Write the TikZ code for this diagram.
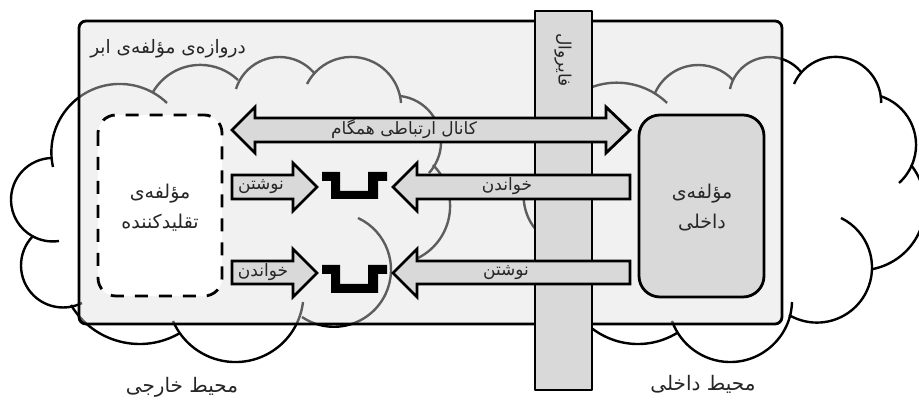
\documentclass[tikz,border=0pt]{standalone}
\usepackage{fontspec}
\newfontfamily\fa[Script=Arabic]{DejaVu Sans}
\TeXXeTstate=1
\usetikzlibrary{calc}
\definecolor{boxgray}{HTML}{D9D9D9}
\definecolor{panelgray}{HTML}{DFDFDF}
\definecolor{inkgray}{HTML}{262626}
\tikzset{
  cloudline/.style={draw=black,line width=2.4pt},
  panelbox/.style={draw=black,line width=2.8pt,fill=panelgray,fill opacity=.42,draw opacity=1,rounded corners=7pt},
  wallbox/.style={draw=black,line width=2.8pt,fill=boxgray,line join=round},
  mimicbox/.style={draw=black,line width=2.8pt,fill=white,rounded corners=18pt,dash pattern=on 13pt off 11pt},
  innerbox/.style={draw=black,line width=2.8pt,fill=boxgray,rounded corners=21pt},
  arrowshape/.style={draw=black,line width=2.8pt,fill=boxgray,line join=miter},
  trough/.style={fill=black},
  lbl/.style={font=\fa\fontsize{#1}{30}\selectfont,text=inkgray,inner sep=0pt,align=center},
  lbl/.default=14
}
% three-point circular arc, pixel coordinates of the reference
\newcommand\cloudarc[6]{%
  \pgfmathsetmacro\ax{#1/100}\pgfmathsetmacro\ay{(403-#2)/100}%
  \pgfmathsetmacro\bx{#3/100}\pgfmathsetmacro\by{(403-#4)/100}%
  \pgfmathsetmacro\cx{#5/100}\pgfmathsetmacro\cy{(403-#6)/100}%
  \pgfmathsetmacro\dd{2*(\ax*(\by-\cy)+\bx*(\cy-\ay)+\cx*(\ay-\by))}%
  \pgfmathsetmacro\sa{\ax*\ax+\ay*\ay}\pgfmathsetmacro\sb{\bx*\bx+\by*\by}\pgfmathsetmacro\sc{\cx*\cx+\cy*\cy}%
  \pgfmathsetmacro\ux{(\sa*(\by-\cy)+\sb*(\cy-\ay)+\sc*(\ay-\by))/\dd}%
  \pgfmathsetmacro\uy{(\sa*(\cx-\bx)+\sb*(\ax-\cx)+\sc*(\bx-\ax))/\dd}%
  \pgfmathsetmacro\rr{100*veclen(\ax-\ux,\ay-\uy)}%
  \pgfmathsetmacro\aone{atan2(\ay-\uy,\ax-\ux)}%
  \pgfmathsetmacro\amid{atan2(\by-\uy,\bx-\ux)}%
  \pgfmathsetmacro\atwo{atan2(\cy-\uy,\cx-\ux)}%
  \pgfmathsetmacro\sm{Mod(\amid-\aone,360)}%
  \pgfmathsetmacro\st{Mod(\atwo-\aone,360)}%
  \pgfmathsetmacro\aend{\sm<\st ? \aone+\st : \aone+\st-360}%
  \draw[cloudline] (#1,403-#2) arc[start angle=\aone,end angle=\aend,radius=\rr];%
}
\newcommand\rtl[1]{\beginR #1\endR}
\begin{document}
\begin{tikzpicture}[x=1pt,y=1pt]
\useasboundingbox (0,0) rectangle (919,403);
\fill[white] (0,0) rectangle (919,403);
% outer (left) cloud
\cloudarc{33}{236}{21}{265}{82}{303}
\cloudarc{52}{158}{11}{200}{59}{241}
\cloudarc{53}{167}{117}{84}{167}{103}
\cloudarc{153}{92}{197}{65}{238}{80}
\cloudarc{236}{89}{280}{57}{315}{74}
\cloudarc{307}{84}{353}{57}{401}{103}
\cloudarc{400}{96}{441}{140}{429}{173}
\cloudarc{433}{165}{450}{203}{418}{258}
\cloudarc{358}{218}{391}{270}{302}{317}
\cloudarc{303}{302}{233}{362}{173}{321}
\cloudarc{180}{333}{140}{344}{71}{305}
% inner (right) cloud
\cloudarc{575}{96}{623}{83}{667}{103}
\cloudarc{655}{93}{700}{65}{733}{80}
\cloudarc{730}{89}{770}{57}{802}{73}
\cloudarc{794}{84}{837}{57}{881}{103}
\cloudarc{880}{96}{916}{147}{899}{183}
\cloudarc{911}{165}{925}{206}{873}{269}
\cloudarc{841}{218}{872}{267}{789}{315}
\cloudarc{792}{302}{728}{362}{672}{321}
\cloudarc{677}{333}{640}{344}{575}{310}
\cloudarc{524}{190}{525}{208}{540}{234}
% panel
\draw[panelbox] (79,403-21) rectangle (782,403-324);
% firewall
\draw[wallbox] (535,403-11) rectangle (592,403-390);
% components
\draw[mimicbox] (98,403-115) rectangle (222,403-296);
\draw[innerbox] (639,403-115) rectangle (764,403-297);
% synchronous channel
\draw[arrowshape] (232,403-130) -- (255,403-107) -- (255,403-118) -- (606,403-118) -- (606,403-107) -- (630,403-130) -- (606,403-153) -- (606,403-142) -- (255,403-142) -- (255,403-153) -- cycle;
% left arrows
\draw[arrowshape] (232,403-175) -- (293,403-175) -- (293,403-163) -- (317,403-187) -- (293,403-211) -- (293,403-199) -- (232,403-199) -- cycle;
\draw[arrowshape] (232,403-261) -- (293,403-261) -- (293,403-249) -- (317,403-273) -- (293,403-297) -- (293,403-284) -- (232,403-284) -- cycle;
% right arrows
\draw[arrowshape] (630,403-175) -- (417,403-175) -- (417,403-163) -- (393,403-187) -- (417,403-211) -- (417,403-199) -- (630,403-199) -- cycle;
\draw[arrowshape] (630,403-261) -- (417,403-261) -- (417,403-249) -- (393,403-273) -- (417,403-297) -- (417,403-284) -- (630,403-284) -- cycle;
% queues
\fill[trough] (322,403-172) -- (340,403-172) -- (340,403-191) -- (368,403-191) -- (368,403-172) -- (387,403-172) -- (387,403-181) -- (378,403-181) -- (378,403-199) -- (331,403-199) -- (331,403-181) -- (322,403-181) -- cycle;
\fill[trough] (322,403-265) -- (340,403-265) -- (340,403-284) -- (368,403-284) -- (368,403-265) -- (387,403-265) -- (387,403-274) -- (378,403-274) -- (378,403-293) -- (331,403-293) -- (331,403-274) -- (322,403-274) -- cycle;
% labels
\node[lbl=18.5] (gateway) at (168,403-49) {\rtl{دروازه^^^^200cی مؤلفه^^^^200cی ابر}};
\node[lbl=17,rotate=-90] (firewall) at (563,403-60) {\rtl{فایروال}};
\node[lbl=17] (channel) at (404,403-129) {\rtl{کانال ارتباطی همگام}};
\node[lbl=17] (writeL) at (261,403-187) {\rtl{نوشتن}};
\node[lbl=17] (readL) at (263,403-272) {\rtl{خواندن}};
\node[lbl=17] (readR) at (507,403-186) {\rtl{خواندن}};
\node[lbl=17] (writeR) at (506,403-273) {\rtl{نوشتن}};
\node[lbl=19] (mimic) at (160,403-208) {\rtl{مؤلفه^^^^200cی}\\\rtl{تقلیدکننده}};
\node[lbl=19] (inner) at (702,403-208) {\rtl{مؤلفه^^^^200cی}\\\rtl{داخلی}};
\node[lbl=20] (outside) at (182,403-387) {\rtl{محیط خارجی}};
\node[lbl=20] (inside) at (703,403-384) {\rtl{محیط داخلی}};
\end{tikzpicture}
\end{document}
